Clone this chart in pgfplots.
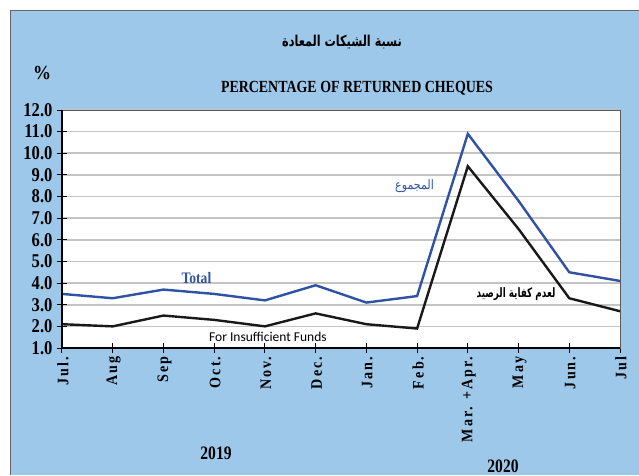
\documentclass[border=0pt]{standalone}
\usepackage{pgfplots}
\pgfplotsset{compat=1.18}
\usepackage{fontspec}
\usepackage{graphicx}
\setmainfont{Liberation Serif}
\newfontfamily\arabicfont[Script=Arabic]{DejaVu Sans}
\newfontfamily\calfont{Carlito}
\TeXXeTstate=1
\definecolor{panel}{HTML}{9DC8EA}
\definecolor{lblue}{HTML}{2F52A4}
\definecolor{gridc}{HTML}{C4C4C4}
\pgfplotstableread{
x total insuf
0 3.5 2.1
1 3.3 2.0
2 3.7 2.5
3 3.5 2.3
4 3.2 2.0
5 3.9 2.6
6 3.1 2.1
7 3.4 1.9
8 10.9 9.4
9 7.8 6.5
10 4.5 3.3
11 4.1 2.7
}\datatable
\newcommand{\cond}[2]{\scalebox{#1}[1]{#2}}
\newcommand{\ml}[1]{\cond{0.88}{\addfontfeature{LetterSpace=15}#1}}
\begin{document}
\begin{tikzpicture}[x=1pt,y=1pt]
\useasboundingbox (0,0) rectangle (639,475);
\fill[white] (0,0) rectangle (639,475);
\fill[panel] (10,0) rectangle (639,465);
\draw[gray!80!black,line width=1.2pt] (10.6,0) -- (10.6,464.4) -- (639,464.4);
\node[font=\arabicfont\bfseries\fontsize{15}{15}\selectfont] at (342,433) {\cond{0.75}{\beginR نسبة الشيكات المعادة\endR}};
\node[font=\bfseries\fontsize{17}{17}\selectfont] at (357,387) {\cond{0.82}{PERCENTAGE OF RETURNED CHEQUES}};
\node[font=\bfseries\fontsize{20}{20}\selectfont] at (42,402) {\cond{0.9}{\%}};
\node[font=\bfseries\fontsize{19}{19}\selectfont] at (216,22) {\cond{0.82}{2019}};
\node[font=\bfseries\fontsize{19}{19}\selectfont] at (503,9) {\cond{0.82}{2020}};
\begin{axis}[
  at={(62pt,127pt)}, anchor=south west,
  scale only axis, width=558pt, height=238pt,
  xmin=0, xmax=11, ymin=1, ymax=12,
  xtick={0,...,11},
  xticklabels={\ml{Jul.},\ml{Aug},\ml{Sep},\ml{Oct.},\ml{Nov.},\ml{Dec.},\ml{Jan.},\ml{Feb.},\ml{Mar. +Apr.},\ml{May},\ml{Jun.},\ml{Jul}},
  ytick={1,...,12},
  yticklabel={\cond{0.85}{\pgfmathprintnumber[fixed,fixed zerofill,precision=1,assume math mode=true]{\tick}}},
  tick pos=left,
  tick align=center,
  major tick length=10pt,
  tick style={black,line width=1pt},
  ymajorgrids,
  major grid style={gridc,line width=1.6pt},
  axis line style={gray!70!black,line width=1pt},
  axis background/.style={fill=white},
  yticklabel style={font=\bfseries\fontsize{19.5}{19.5}\selectfont, xshift=-1pt},
  xticklabel style={font=\bfseries\fontsize{16}{16}\selectfont, rotate=90, anchor=east, yshift=-1pt},
  clip=false,
]
\addplot[lblue, line width=2.4pt] table[x=x,y=total] {\datatable};
\addplot[black!90, line width=2.4pt] table[x=x,y=insuf] {\datatable};
\draw[black,line width=1.2pt] (rel axis cs:0,1) -- (rel axis cs:0,0) -- (rel axis cs:1,0);
\node[font=\bfseries\fontsize{16}{16}\selectfont, text=lblue] at (axis cs:2.65,4.25) {\cond{0.85}{Total}};
\node[font=\arabicfont\fontsize{13}{13}\selectfont, text=lblue] at (axis cs:6.95,8.5) {\cond{0.85}{\beginR المجموع\endR}};
\node[font=\arabicfont\bfseries\fontsize{13}{13}\selectfont] at (axis cs:8.95,3.5) {\cond{0.68}{\beginR لعدم كفاية الرصيد\endR}};
\node[font=\calfont\fontsize{13.5}{13.5}\selectfont] at (axis cs:4.06,1.5) {For Insufficient Funds};
\end{axis}
\end{tikzpicture}
\end{document}
